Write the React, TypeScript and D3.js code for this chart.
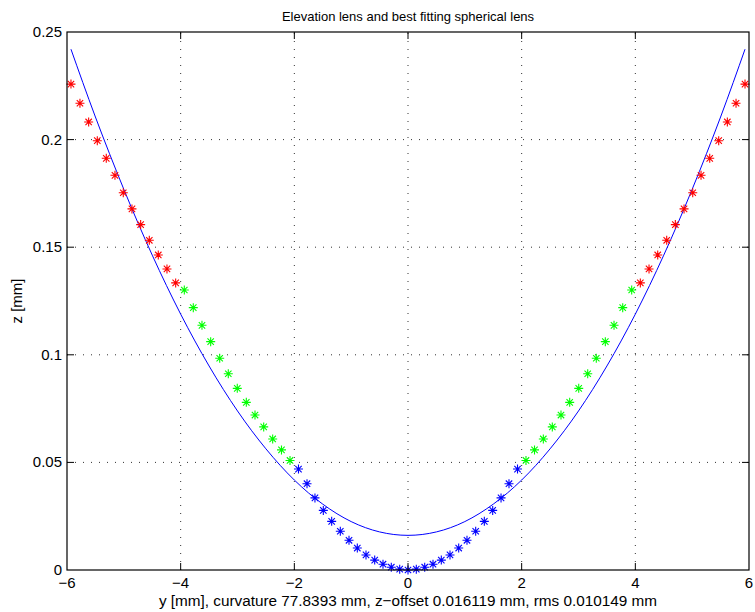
import * as d3 from "d3";

// measured lens profile, split into the three coloured zones
const redY = [-5.93, -5.772, -5.619, -5.467, -5.309, -5.156, -5.01, -4.857, -4.704, -4.552, -4.394, -4.241, -4.088,
  4.088, 4.241, 4.394, 4.552, 4.704, 4.857, 5.01, 5.156, 5.309, 5.467, 5.619, 5.772, 5.93];
const redZ = [0.2258, 0.2169, 0.2082, 0.1995, 0.1913, 0.1834, 0.1753, 0.1678, 0.1605, 0.1532, 0.1464, 0.1399, 0.1334,
  0.1334, 0.1399, 0.1464, 0.1532, 0.1605, 0.1678, 0.1753, 0.1834, 0.1913, 0.1995, 0.2082, 0.2169, 0.2258];

const greenY = [-3.936, -3.778, -3.625, -3.472, -3.313, -3.162, -3.004, -2.845, -2.692, -2.539, -2.381, -2.226, -2.076,
  2.076, 2.226, 2.381, 2.539, 2.692, 2.845, 3.004, 3.162, 3.313, 3.472, 3.625, 3.778, 3.936];
const greenZ = [0.1301, 0.1219, 0.1137, 0.1061, 0.0984, 0.0912, 0.0844, 0.0779, 0.072, 0.0665, 0.0609, 0.0558, 0.0509,
  0.0509, 0.0558, 0.0609, 0.0665, 0.072, 0.0779, 0.0844, 0.0912, 0.0984, 0.1061, 0.1137, 0.1219, 0.1301];

const blueY = [-1.927, -1.777, -1.637, -1.49, -1.343, -1.191, -1.038, -0.892, -0.739, -0.586, -0.44, -0.294, -0.146, 0,
  0.146, 0.294, 0.44, 0.586, 0.739, 0.892, 1.038, 1.191, 1.343, 1.49, 1.637, 1.777, 1.927];
const blueZ = [0.0469, 0.0401, 0.0335, 0.0277, 0.0226, 0.018, 0.0138, 0.0102, 0.007, 0.0046, 0.0027, 0.0013, 0.0004, 0,
  0.0004, 0.0013, 0.0027, 0.0046, 0.007, 0.0102, 0.0138, 0.018, 0.0226, 0.0277, 0.0335, 0.0401, 0.0469];

// best fitting sphere
const fitY = [-5.93, -5.5, -5, -4.5, -4, -3.5, -3, -2.5, -2, -1.5, -1, -0.5, 0, 0.5, 1, 1.5, 2, 2.5, 3, 3.5, 4, 4.5, 5, 5.5, 5.93];
const fitZ = [0.242, 0.2105, 0.1769, 0.1463, 0.1189, 0.0948, 0.0739, 0.0563, 0.0418, 0.0306, 0.0225, 0.0177, 0.0161,
  0.0177, 0.0225, 0.0306, 0.0418, 0.0563, 0.0739, 0.0948, 0.1189, 0.1463, 0.1769, 0.2105, 0.242];

const xTicks = [-6, -4, -2, 0, 2, 4, 6];
const xTickLabels = ["\u22126", "\u22124", "\u22122", "0", "2", "4", "6"];
const yTicks = [0, 0.05, 0.1, 0.15, 0.2, 0.25];
const yTickLabels = ["0", "0.05", "0.1", "0.15", "0.2", "0.25"];

const W = 755;
const H = 612;
const left = 67, right = 749, top = 32, bottom = 570;
const font = "'Liberation Sans', Arial, Helvetica, sans-serif";

const star = (cx: number, cy: number) => {
  const a = 4.5, b = 3.2;
  return `M${cx - a},${cy}H${cx + a}M${cx},${cy - a}V${cy + a}` +
    `M${cx - b},${cy - b}L${cx + b},${cy + b}M${cx - b},${cy + b}L${cx + b},${cy - b}`;
};

export default function App() {
  const x = d3.scaleLinear().domain([-6, 6]).range([left, right]);
  const y = d3.scaleLinear().domain([0, 0.25]).range([bottom, top]);

  const fitLine = d3.line<number>()
    .x((d) => x(d))
    .y((d, i) => y(fitZ[i]))
    .curve(d3.curveNatural);

  const series = [
    { ys: redY, zs: redZ, color: "#ff0000" },
    { ys: greenY, zs: greenZ, color: "#00ff00" },
    { ys: blueY, zs: blueZ, color: "#0000ff" },
  ];

  const tick = 7;

  return (
    <svg width={W} height={H} style={{ position: "absolute", left: 0, top: 0, background: "#fff" }}
      fontFamily={font}>
      <rect x={0} y={0} width={W} height={H} fill="#fff" />

      {/* grid */}
      <g stroke="#000" strokeWidth={1} strokeDasharray="1,7" opacity={0.8}>
        {xTicks.slice(1, -1).map((t) => (
          <line key={"gx" + t} x1={x(t)} x2={x(t)} y1={bottom} y2={top} />
        ))}
        {yTicks.slice(1, -1).map((t) => (
          <line key={"gy" + t} x1={left} x2={right} y1={y(t)} y2={y(t)} />
        ))}
      </g>

      {/* fitted sphere */}
      <path d={fitLine(fitY) ?? ""} fill="none" stroke="#0000ff" strokeWidth={1} />

      {/* measured points */}
      {series.map((s) =>
        s.ys.map((v, i) => (
          <path key={s.color + i} d={star(x(v), y(s.zs[i]))} stroke={s.color} strokeWidth={1.1} fill="none" />
        ))
      )}

      {/* box and ticks */}
      <rect x={left} y={top} width={right - left} height={bottom - top} fill="none" stroke="#000" strokeWidth={1.2} />
      <g stroke="#000" strokeWidth={1}>
        {xTicks.slice(1, -1).map((t) => (
          <g key={"tx" + t}>
            <line x1={x(t)} x2={x(t)} y1={bottom} y2={bottom - tick} />
            <line x1={x(t)} x2={x(t)} y1={top} y2={top + tick} />
          </g>
        ))}
        {yTicks.slice(1, -1).map((t) => (
          <g key={"ty" + t}>
            <line x1={left} x2={left + tick} y1={y(t)} y2={y(t)} />
            <line x1={right} x2={right - tick} y1={y(t)} y2={y(t)} />
          </g>
        ))}
      </g>

      {/* tick labels */}
      <g fontSize={15} fill="#000">
        {xTicks.map((t, i) => (
          <text key={"lx" + t} x={x(t)} y={bottom + 18} textAnchor="middle">{xTickLabels[i]}</text>
        ))}
        {yTicks.map((t, i) => (
          <text key={"ly" + t} x={left - 5} y={y(t) + 5} textAnchor="end">{yTickLabels[i]}</text>
        ))}
      </g>

      <text x={(left + right) / 2} y={21} textAnchor="middle" fontSize={13}>
        Elevation lens and best fitting spherical lens
      </text>
      <text x={(left + right) / 2} y={606} textAnchor="middle" fontSize={15.3}>
        y [mm], curvature 77.8393 mm, z{"\u2212"}offset 0.016119 mm, rms 0.010149 mm
      </text>
      <text transform={`translate(22,${(top + bottom) / 2}) rotate(-90)`} textAnchor="middle" fontSize={15}>
        z [mm]
      </text>
    </svg>
  );
}
